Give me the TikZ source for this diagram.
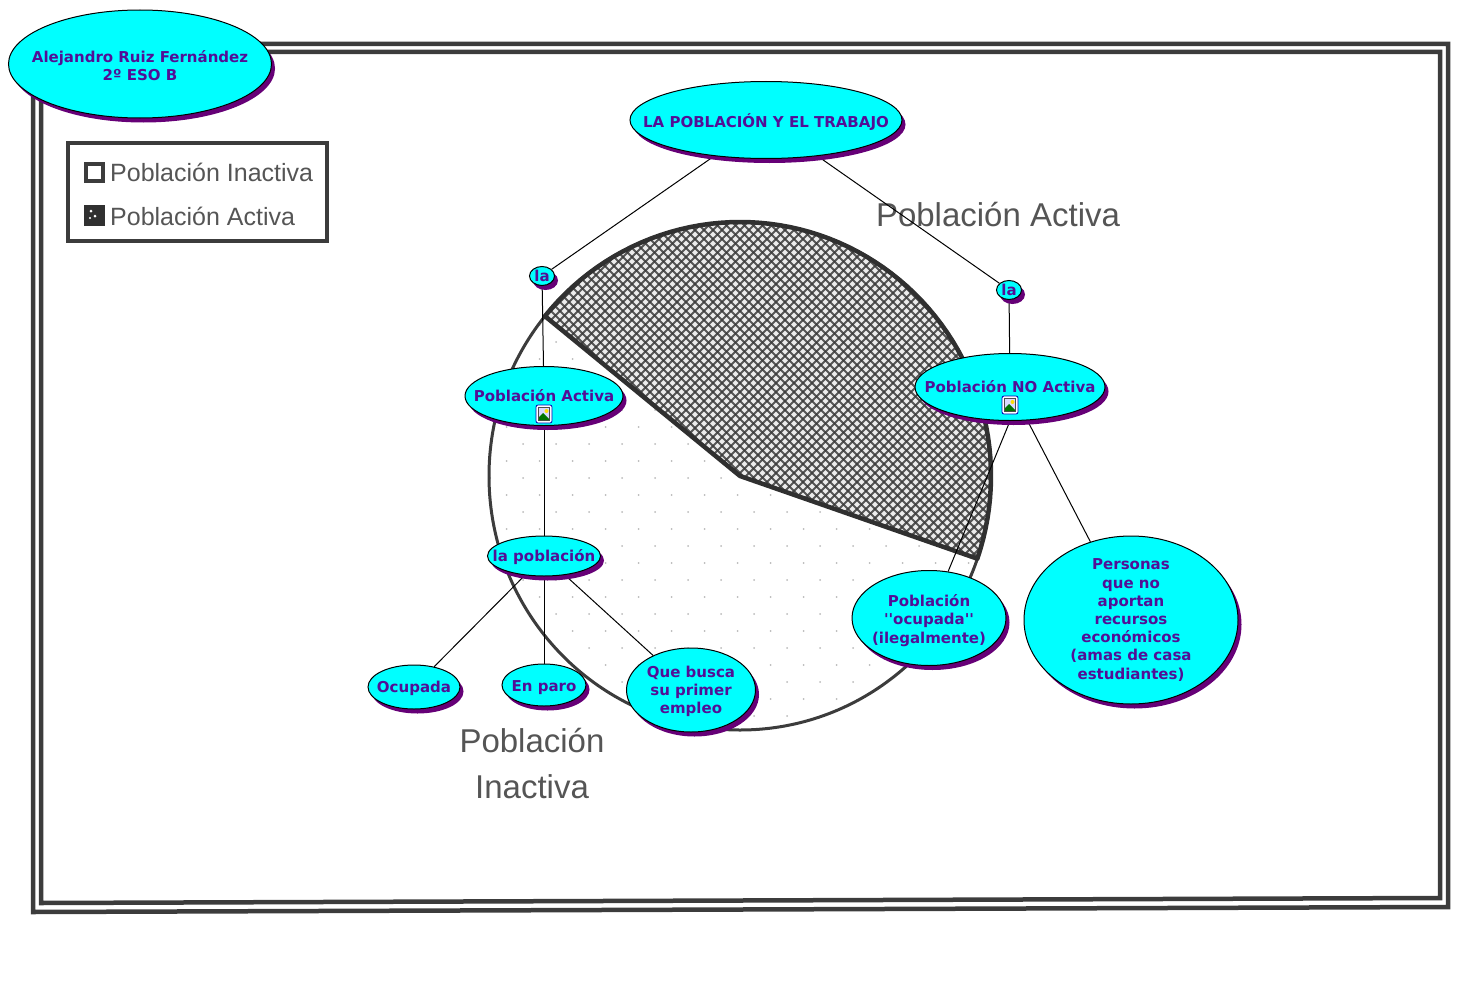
\documentclass[tikz,border=0pt]{standalone}
\usepackage{fontspec}
\usetikzlibrary{shapes.geometric,shadows,backgrounds}
\newfontfamily\mapfont{DejaVu Sans}
\newfontfamily\scanfont{Liberation Sans}
\definecolor{aqua}{HTML}{00FFFF}
\definecolor{violet}{HTML}{520F96}
\definecolor{shade}{HTML}{660077}
\definecolor{scan}{HTML}{555555}
\definecolor{hatch}{HTML}{3C3C3C}
\tikzset{
    concept/.style={ellipse,draw=black,fill=aqua,text=violet,inner sep=-70pt,align=center,
        font=\fontsize{15}{18.2}\selectfont\mapfont\bfseries,line width=1pt,
        drop shadow={shadow xshift=3.5pt,shadow yshift=-4.5pt,fill=shade,opacity=1}},
    scanlabel/.style={text=scan,inner sep=0pt,font=\fontsize{33}{40}\selectfont\scanfont},
    legendlabel/.style={text=scan,inner sep=0pt,anchor=west,font=\fontsize{25}{30}\selectfont\scanfont},
    link/.style={draw=black,line width=1pt},
    rim/.style={draw=hatch!80!black,line width=4.5pt,line join=round},
    framing/.style={draw=hatch,line width=4.5pt,line join=miter}
}
\newcommand{\sectorpath}{plot[domain=141:-19,samples=70] ({740+251*cos(\x)},{476-254*sin(\x)}) -- (740,476) -- cycle}
\newcommand{\fotoicon}[1]{
    \begin{scope}[shift={#1}]
        \fill[white,draw=blue!70!black,line width=.8pt,rounded corners=2pt] (-8,-9) rectangle (8,9);
        \fill[black!70] (-6,-7) rectangle (6,7);
        \fill[blue!15] (-5,-6) rectangle (5,6);
        \fill[green!45!black] (-5,6) -- (-5,3) -- (-1,-1) -- (5,5) -- (5,6) -- cycle;
        \fill[yellow!80!orange] (2.5,-3) circle (2);
    \end{scope}
}

\begin{document}
\begin{tikzpicture}[x=1pt,y=-1pt]
    \useasboundingbox (0,0) rectangle (1470,982);

    \node[concept,minimum width=263pt,minimum height=108pt] (author) at (140,64){\rule{0pt}{16pt}Alejandro Ruiz Fernández\\2º ESO B};
    \node[concept,minimum width=272pt,minimum height=77pt] (title) at (766,120){\rule{0pt}{19pt}LA POBLACIÓN Y EL TRABAJO};
    \node[concept,minimum width=25pt,minimum height=19pt] (lal) at (542,276){la};
    \node[concept,minimum width=25pt,minimum height=19pt] (lar) at (1009,290){la};
    \node[concept,minimum width=158pt,minimum height=59pt] (activa) at (544,396){Población Activa};
    \node[concept,minimum width=190pt,minimum height=67pt] (noactiva) at (1010,387){Población NO Activa};
    \node[concept,minimum width=113pt,minimum height=40pt] (poblacion) at (544,556){\rule{0pt}{14pt}la población};
    \node[concept,minimum width=92pt,minimum height=44pt] (ocupada) at (414,687){\rule{0pt}{15pt}Ocupada};
    \node[concept,minimum width=84pt,minimum height=42pt] (paro) at (544,685){\rule{0pt}{17pt}En paro};
    \node[concept,minimum width=129pt,minimum height=84pt] (busca) at (691,690){\rule{0pt}{14pt}Que busca\\su primer\\empleo};
    \node[concept,minimum width=154pt,minimum height=95pt] (ilegal) at (929,618){\rule{0pt}{17pt}Población\\''ocupada''\\(ilegalmente)};
    \node[concept,minimum width=214pt,minimum height=168pt] (personas) at (1131,620){Personas\\que no\\aportan\\recursos\\económicos\\(amas de casa\\ estudiantes)};

    \fotoicon{(544,414)}
    \fotoicon{(1010,405)}

    \begin{pgfonlayer}{background}
    \draw[framing] (33,44) -- (1448,44) -- (1448,907) -- (33,912) -- cycle;
    \draw[framing] (41,52) -- (1440,52) -- (1440,898) -- (41,903) -- cycle;

    \draw[hatch,line width=4pt] (68,143) rectangle (327,241);
    \draw[hatch,line width=3.5pt] (86,164) rectangle (103,181);
    \fill[hatch!80!black] (84,205) rectangle (105,226);
    \fill[white] (91,211) circle (1.5) (95,216) circle (1.5) (90,218) circle (1.2);
    \node[legendlabel] (inactivalabel) at (110,172){Población Inactiva};
    \node[legendlabel] (activalabel) at (110,216){Población Activa};

    \begin{scope}
        \clip (740,476) ellipse (251 and 254);
        \foreach \px in {490,523,...,990}
            \foreach \py in {240,274,...,730}{
                \fill[gray!55] (\px,\py) circle (1);
                \fill[gray!55] (\px+16.5,\py+17) circle (1);
            }
    \end{scope}
    \fill[white] \sectorpath;
    \begin{scope}
        \clip \sectorpath;
        \fill[gray!15] (480,210) rectangle (1000,600);
        \foreach \c in {700,709,...,1600}
            \draw[hatch,line width=2.1pt,opacity=.85] (\c-600,600) -- (\c-200,200);
        \foreach \c in {-120,-111,...,800}
            \draw[hatch,line width=2.1pt,opacity=.85] (\c+200,200) -- (\c+600,600);
    \end{scope}
    \draw[hatch,line width=3pt] (740,476) ellipse (251 and 254);
    \draw[rim] \sectorpath;

    \node[scanlabel] (activahead) at (998,215){Población Activa};
    \node[scanlabel] (inactivahead) at (532,741){Población};
    \node[scanlabel] (inactivatail) at (532,787){Inactiva};

    \draw[link] (title) -- (lal);
    \draw[link] (title) -- (lar);
    \draw[link] (lal) -- (activa);
    \draw[link] (lar) -- (noactiva);
    \draw[link] (activa) -- (poblacion);
    \draw[link] (poblacion) -- (ocupada);
    \draw[link] (poblacion) -- (paro);
    \draw[link] (poblacion) -- (busca);
    \draw[link] (noactiva.south) -- (ilegal);
    \draw[link] (noactiva) -- (personas);
    \end{pgfonlayer}
\end{tikzpicture}
\end{document}
